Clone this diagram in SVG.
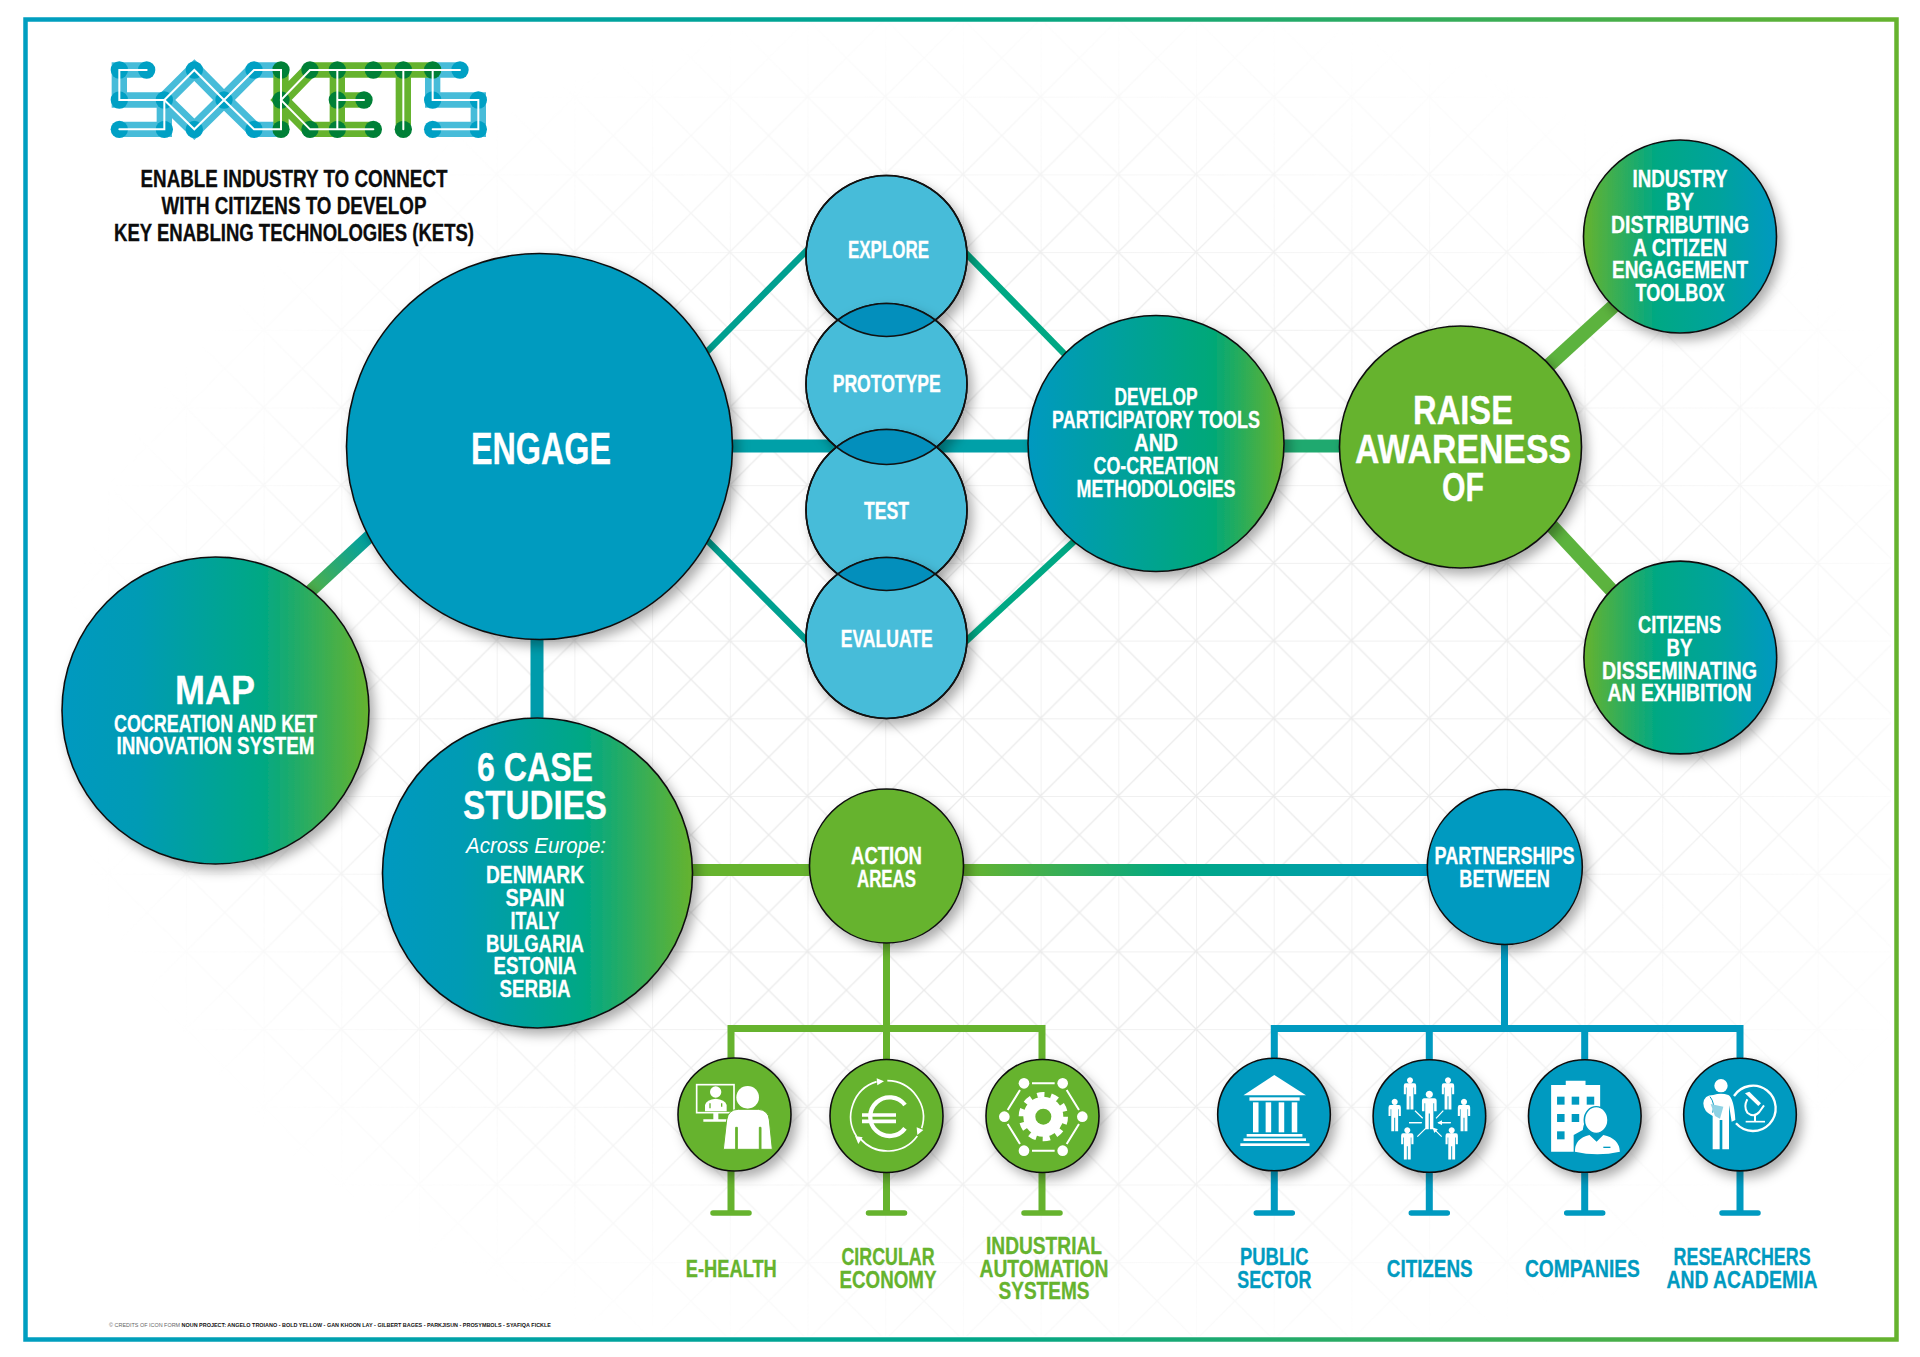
<svg xmlns="http://www.w3.org/2000/svg" width="1920" height="1357" viewBox="0 0 1920 1357">
<style>
text{font-family:"Liberation Sans Narrow","Liberation Sans",Arial,sans-serif;font-weight:700;fill:#fff;stroke:#fff;stroke-width:.3;text-anchor:middle}
.s23{font-size:23px}.s41{font-size:41px}.s44{font-size:44px}
.k{fill:#0c0c0c;stroke:#0c0c0c}.g{fill:#66b32e;stroke:#66b32e}.b{fill:#009ac0;stroke:#009ac0}
.n{stroke:#111;stroke-width:1.6}
.sh{filter:url(#shadow)}
.gl{stroke:#66b32e;stroke-width:7;fill:none}
.bl{stroke:#009ac0;stroke-width:7;fill:none}
.bar{stroke-width:5.5;stroke-linecap:round}
.w{fill:#fff}.ws{stroke:#fff;fill:none}
</style>
<defs>
<filter id="shadow" x="-20%" y="-20%" width="145%" height="145%"><feDropShadow dx="5" dy="6" stdDeviation="6" flood-color="#000" flood-opacity=".32"/></filter>
<linearGradient id="frame" gradientUnits="userSpaceOnUse" x1="25" y1="0" x2="1897" y2="0"><stop offset="0" stop-color="#009ec0"/><stop offset=".5" stop-color="#00a68a"/><stop offset="1" stop-color="#66b32e"/></linearGradient>
<linearGradient id="b2g"><stop offset="0" stop-color="#0099c0"/><stop offset=".25" stop-color="#009bb4"/><stop offset=".65" stop-color="#00a884"/><stop offset="1" stop-color="#66b32e"/></linearGradient>
<linearGradient id="dev"><stop offset="0" stop-color="#0099c0"/><stop offset=".72" stop-color="#00a878"/><stop offset="1" stop-color="#66b32e"/></linearGradient>
<linearGradient id="g2b"><stop offset="0" stop-color="#66b32e"/><stop offset=".38" stop-color="#00a884"/><stop offset=".7" stop-color="#00a39c"/><stop offset="1" stop-color="#0099c0"/></linearGradient>
<linearGradient id="ab" gradientUnits="userSpaceOnUse" x1="965" y1="0" x2="1428" y2="0"><stop offset="0" stop-color="#66b32e"/><stop offset=".45" stop-color="#00a884"/><stop offset="1" stop-color="#009ac0"/></linearGradient>
<linearGradient id="em" gradientUnits="userSpaceOnUse" x1="367" y1="539" x2="312" y2="590"><stop offset="0" stop-color="#00a0a0"/><stop offset="1" stop-color="#4fb04a"/></linearGradient>
<pattern id="cell" patternUnits="userSpaceOnUse" x="30.500" y="19" width="77.700" height="77.700"><path d="M0 0H77.700M0 0V77.700M0 0L77.700 77.700M77.700 0L0 77.700" stroke="#ebebeb" stroke-width="1.300" fill="none"/></pattern>
<radialGradient id="fade" gradientUnits="userSpaceOnUse" cx="1040" cy="700" r="1000" gradientTransform="translate(1040 700) scale(1 .72) translate(-1040 -700)"><stop offset="0" stop-color="#fff"/><stop offset=".55" stop-color="#fff"/><stop offset=".98" stop-color="#000"/></radialGradient>
<mask id="gridMask" maskUnits="userSpaceOnUse" x="0" y="0" width="1920" height="1357"><rect width="1920" height="1357" fill="url(#fade)"/></mask>
<clipPath id="cE"><circle cx="886.500" cy="256" r="80.500"/></clipPath>
<clipPath id="cP"><circle cx="886.500" cy="384" r="80.500"/></clipPath>
<clipPath id="cT"><circle cx="886.500" cy="510" r="80.500"/></clipPath>
<path id="pers" d="M0-17a3.200 3.200 0 1 0 .01 0ZM-4.500-10.500H4.500Q6.500-10.500 6.500-8V1H4.300V-6H3.600V17H.5V3H-.5V17H-3.600V-6H-4.300V1H-6.500V-8Q-6.500-10.500-4.500-10.500Z" class="w"/>
<marker id="ah" markerUnits="userSpaceOnUse" markerWidth="5" markerHeight="5" refX="4" refY="2.500" orient="auto-start-reverse"><path d="M0 0L5 2.500L0 5Z" fill="#fff"/></marker>
</defs>

<rect width="1920" height="1357" fill="#fff"/>
<g id="grid"><rect x="31" y="20" width="1860" height="1316" fill="url(#cell)" mask="url(#gridMask)"/></g>
<rect id="frame-border" x="25.500" y="19.500" width="1871" height="1320" fill="none" stroke="url(#frame)" stroke-width="4.500"/>

<g id="logo" transform="scale(.33333)" fill="none" stroke-linecap="round" stroke-linejoin="miter">
<g stroke="#47bcd9" stroke-width="46">
<path d="M440 210H358V300H493V388H358"/><path d="M583 210L672 300L583 388L493 300Z"/><path d="M672 300L762 210H843M672 300L762 388H843"/><path d="M1298 210H1380M1298 210V300H1435V388H1298"/>
</g>
<g stroke="#66b32e" stroke-width="46">
<path d="M843 210V388M930 210L843 300L930 388M930 210H1298M1012 210V388M1012 300H1092M930 388H1120M1210 210V388"/>
</g>
<g fill="#00a0c4" stroke="none">
<circle cx="358" cy="210" r="26"/><circle cx="440" cy="210" r="26"/><circle cx="358" cy="300" r="26"/><circle cx="493" cy="300" r="26"/><circle cx="358" cy="388" r="26"/><circle cx="493" cy="388" r="26"/><circle cx="583" cy="210" r="26"/><circle cx="583" cy="388" r="26"/><circle cx="672" cy="300" r="26"/><circle cx="762" cy="210" r="26"/><circle cx="762" cy="388" r="26"/><circle cx="1380" cy="210" r="26"/><circle cx="1298" cy="300" r="26"/><circle cx="1435" cy="300" r="26"/><circle cx="1298" cy="388" r="26"/><circle cx="1435" cy="388" r="26"/>
</g>
<g fill="#008037" stroke="none">
<circle cx="843" cy="210" r="26"/><circle cx="843" cy="300" r="26"/><circle cx="843" cy="388" r="26"/><circle cx="930" cy="210" r="26"/><circle cx="930" cy="388" r="26"/><circle cx="1012" cy="210" r="26"/><circle cx="1012" cy="300" r="26"/><circle cx="1012" cy="388" r="26"/><circle cx="1092" cy="300" r="26"/><circle cx="1120" cy="388" r="26"/><circle cx="1120" cy="210" r="26"/><circle cx="1210" cy="210" r="26"/><circle cx="1210" cy="388" r="26"/><circle cx="1298" cy="210" r="26"/>
</g>
<g stroke="#fff" stroke-width="6">
<path d="M440 210H358V300H493V388H358"/><path d="M493 300L583 210L672 300L762 388H843V210H762L672 300L583 388Z"/><path d="M930 210L843 300L930 388H1120M930 210H1380M1012 210V388M1012 300H1092M1210 210V388M1298 210V300H1435V388H1298"/>
</g>
</g>

<g id="headline">
<text class="k s23" x="294" y="186.700" textLength="307" lengthAdjust="spacingAndGlyphs">ENABLE INDUSTRY TO CONNECT</text>
<text class="k s23" x="294" y="214" textLength="265" lengthAdjust="spacingAndGlyphs">WITH CITIZENS TO DEVELOP</text>
<text class="k s23" x="294" y="241" textLength="360" lengthAdjust="spacingAndGlyphs">KEY ENABLING TECHNOLOGIES (KETS)</text>
</g>

<g id="connectors" fill="none">
<path d="M690 369L825 232" stroke="#00a090" stroke-width="6.500"/>
<path d="M690 523L825 659" stroke="#00a090" stroke-width="6.500"/>
<path d="M950 237L1085 375" stroke="#00a884" stroke-width="6.500"/>
<path d="M950 656L1095 522" stroke="#00a884" stroke-width="6.500"/>
<path d="M732 446H1040" stroke="#00a0a8" stroke-width="13"/>
<path d="M1270 446H1350" stroke="#1fa96f" stroke-width="13"/>
<path d="M1535 378L1640 282" stroke="#5cb33e" stroke-width="14"/>
<path d="M1535 508L1630 610" stroke="#5cb33e" stroke-width="14"/>
<path d="M385 522L290 610" stroke="url(#em)" stroke-width="13"/>
<path d="M537 635V725" stroke="#009bab" stroke-width="13"/>
<path d="M690 870H815" stroke="#66b32e" stroke-width="12"/>
<path d="M960 870H1432" stroke="url(#ab)" stroke-width="12"/>
<path class="gl" d="M886.500 940V1028.500M731 1060V1028.500H1042V1060M886.500 1028.500V1060"/>
<path class="bl" d="M1504.500 940V1028.500M1274.300 1060V1028.500H1740V1060M1429.300 1028.500V1060M1584.700 1028.500V1060"/>
<path class="gl" d="M731 1170V1213M886.500 1170V1213M1042 1170V1213"/>
<path class="bl" d="M1274.300 1170V1213M1429.300 1170V1213M1584.700 1170V1213M1740 1170V1213"/>
<path class="bar" stroke="#66b32e" d="M713 1213H749M868.500 1213H904.500M1024 1213H1060"/>
<path class="bar" stroke="#009ac0" d="M1256.300 1213H1292.300M1411.300 1213H1447.300M1566.700 1213H1602.700M1722 1213H1758"/>
</g>

<g id="node-engage"><circle class="n sh" cx="539.500" cy="446.500" r="193" fill="#009bbf"/><text class="s44" x="541" y="464" textLength="140" lengthAdjust="spacingAndGlyphs">ENGAGE</text></g>

<g id="node-map"><circle class="n sh" cx="215.500" cy="710.500" r="153.500" fill="url(#b2g)"/>
<text class="s41" x="215" y="704" textLength="80" lengthAdjust="spacingAndGlyphs">MAP</text>
<text class="s23" x="215.500" y="732" textLength="203" lengthAdjust="spacingAndGlyphs">COCREATION AND KET</text>
<text class="s23" x="215.500" y="754" textLength="198" lengthAdjust="spacingAndGlyphs">INNOVATION SYSTEM</text></g>

<g id="node-case-studies"><circle class="n sh" cx="537.500" cy="873" r="155" fill="url(#b2g)"/>
<text class="s41" x="535" y="781" textLength="116" lengthAdjust="spacingAndGlyphs">6 CASE</text>
<text class="s41" x="535" y="819" textLength="144" lengthAdjust="spacingAndGlyphs">STUDIES</text>
<text x="536" y="853" font-size="22" style="font-weight:400;font-style:italic;stroke:none;font-family:'Liberation Sans',sans-serif" textLength="140" lengthAdjust="spacingAndGlyphs">Across Europe:</text>
<text class="s23" x="535" y="883" textLength="98" lengthAdjust="spacingAndGlyphs">DENMARK</text>
<text class="s23" x="535" y="906" textLength="59" lengthAdjust="spacingAndGlyphs">SPAIN</text>
<text class="s23" x="535" y="928.500" textLength="49" lengthAdjust="spacingAndGlyphs">ITALY</text>
<text class="s23" x="535" y="951.500" textLength="98" lengthAdjust="spacingAndGlyphs">BULGARIA</text>
<text class="s23" x="535" y="974" textLength="83" lengthAdjust="spacingAndGlyphs">ESTONIA</text>
<text class="s23" x="535" y="997" textLength="71" lengthAdjust="spacingAndGlyphs">SERBIA</text></g>

<g id="node-explore"><circle class="n sh" cx="886.500" cy="256" r="80.500" fill="#47bcd9"/><text class="s23" x="888.500" y="258" textLength="81" lengthAdjust="spacingAndGlyphs">EXPLORE</text></g>
<g id="node-prototype"><circle class="n sh" cx="886.500" cy="384" r="80.500" fill="#47bcd9"/><circle cx="886.500" cy="384" r="80.500" fill="#038fbc" clip-path="url(#cE)"/><text class="s23" x="886.700" y="392" textLength="108" lengthAdjust="spacingAndGlyphs">PROTOTYPE</text></g>
<g id="node-test"><circle class="n sh" cx="886.500" cy="510" r="80.500" fill="#47bcd9"/><circle cx="886.500" cy="510" r="80.500" fill="#038fbc" clip-path="url(#cP)"/><text class="s23" x="886.500" y="519" textLength="45" lengthAdjust="spacingAndGlyphs">TEST</text></g>
<g id="node-evaluate"><circle class="n sh" cx="886.500" cy="638" r="80.500" fill="#47bcd9"/><circle cx="886.500" cy="638" r="80.500" fill="#038fbc" clip-path="url(#cT)"/><text class="s23" x="886.700" y="646.500" textLength="92" lengthAdjust="spacingAndGlyphs">EVALUATE</text></g>
<g id="overlap-outlines" fill="none" stroke="#111" stroke-width="1.600"><circle cx="886.500" cy="256" r="80.500"/><circle cx="886.500" cy="384" r="80.500"/><circle cx="886.500" cy="510" r="80.500"/><circle cx="886.500" cy="638" r="80.500"/></g>

<g id="node-develop"><circle class="n sh" cx="1156" cy="443.500" r="128" fill="url(#dev)"/>
<text class="s23" x="1156" y="405" textLength="83" lengthAdjust="spacingAndGlyphs">DEVELOP</text>
<text class="s23" x="1156" y="428" textLength="208" lengthAdjust="spacingAndGlyphs">PARTICIPATORY TOOLS</text>
<text class="s23" x="1156" y="450.500" textLength="44" lengthAdjust="spacingAndGlyphs">AND</text>
<text class="s23" x="1156" y="474" textLength="125" lengthAdjust="spacingAndGlyphs">CO-CREATION</text>
<text class="s23" x="1156" y="496.500" textLength="159" lengthAdjust="spacingAndGlyphs">METHODOLOGIES</text></g>

<g id="node-raise"><circle class="n sh" cx="1460.500" cy="447" r="121" fill="#66b32e"/>
<text class="s41" x="1463" y="424" textLength="100" lengthAdjust="spacingAndGlyphs">RAISE</text>
<text class="s41" x="1463" y="463" textLength="216" lengthAdjust="spacingAndGlyphs">AWARENESS</text>
<text class="s41" x="1463" y="501" textLength="42" lengthAdjust="spacingAndGlyphs">OF</text></g>

<g id="node-industry"><circle class="n sh" cx="1680" cy="236.500" r="96.500" fill="url(#g2b)"/>
<text class="s23" x="1680" y="187" textLength="95" lengthAdjust="spacingAndGlyphs">INDUSTRY</text>
<text class="s23" x="1680" y="210" textLength="28" lengthAdjust="spacingAndGlyphs">BY</text>
<text class="s23" x="1680" y="233" textLength="138" lengthAdjust="spacingAndGlyphs">DISTRIBUTING</text>
<text class="s23" x="1680" y="255.500" textLength="94" lengthAdjust="spacingAndGlyphs">A CITIZEN</text>
<text class="s23" x="1680" y="278" textLength="136" lengthAdjust="spacingAndGlyphs">ENGAGEMENT</text>
<text class="s23" x="1680" y="301" textLength="89" lengthAdjust="spacingAndGlyphs">TOOLBOX</text></g>

<g id="node-citizens-exhibition"><circle class="n sh" cx="1680.300" cy="657.500" r="96.400" fill="url(#g2b)"/>
<text class="s23" x="1679.600" y="632.700" textLength="83" lengthAdjust="spacingAndGlyphs">CITIZENS</text>
<text class="s23" x="1679.600" y="655.500" textLength="26" lengthAdjust="spacingAndGlyphs">BY</text>
<text class="s23" x="1679.600" y="678.500" textLength="155" lengthAdjust="spacingAndGlyphs">DISSEMINATING</text>
<text class="s23" x="1679.600" y="701" textLength="144" lengthAdjust="spacingAndGlyphs">AN EXHIBITION</text></g>

<g id="node-action"><circle class="n sh" cx="886.500" cy="866" r="77" fill="#66b32e"/>
<text class="s23" x="886.500" y="864" textLength="71" lengthAdjust="spacingAndGlyphs">ACTION</text>
<text class="s23" x="886.500" y="886.500" textLength="59" lengthAdjust="spacingAndGlyphs">AREAS</text></g>

<g id="node-partnerships"><circle class="n sh" cx="1504.800" cy="867" r="77.500" fill="#009ac0"/>
<text class="s23" x="1504.600" y="864" textLength="140" lengthAdjust="spacingAndGlyphs">PARTNERSHIPS</text>
<text class="s23" x="1504.600" y="887" textLength="90.500" lengthAdjust="spacingAndGlyphs">BETWEEN</text></g>

<g id="node-ehealth"><circle class="n sh" cx="734.500" cy="1114.500" r="56.500" fill="#66b32e"/>
<g transform="translate(660 1040) scale(.33333)">
<rect x="110" y="134" width="112" height="84" fill="none" stroke="#fff" stroke-width="5"/>
<circle cx="167" cy="156" r="17" class="w"/><path d="M135 214V195Q140 178 167 176Q195 178 200 195V214Z" class="w"/>
<path d="M150 190V205M185 190V200" stroke="#66b32e" stroke-width="4"/>
<path d="M130 238H205V245H130ZM160 218H175V238H160Z" class="w"/>
<circle cx="263" cy="172" r="34" class="w"/>
<path d="M190 328L200 240Q205 208 235 208H295Q325 210 328 240L337 328H303V262H298V328H232V262H227V328Z" class="w" stroke="#66b32e" stroke-width="3"/>
</g></g>
<g id="node-circular"><circle class="n sh" cx="886.500" cy="1116" r="56.500" fill="#66b32e"/>
<g transform="translate(660 1040) scale(.33333)">
<path d="M590 290A110 110 0 0 1 650 125M682 122A110 110 0 0 1 785 265M772 288A110 110 0 0 1 600 295" class="ws" stroke-width="5"/>
<path d="M650 115L672 124L652 136ZM770 262L790 270L772 285ZM585 288L608 292L595 312Z" class="w"/>
<path d="M735 195A58 58 0 1 0 735 265" class="ws" stroke-width="13"/>
<path d="M606 225H708M606 244H708" class="ws" stroke-width="11"/>
</g></g>
<g id="node-industrial"><circle class="n sh" cx="1042.500" cy="1116" r="56.500" fill="#66b32e"/>
<g transform="translate(660 1040) scale(.33333)">
<circle cx="1150" cy="230" r="60" class="w"/>
<circle cx="1150" cy="230" r="66" fill="none" stroke="#fff" stroke-width="16" stroke-dasharray="22 19.500"/>
<circle cx="1150" cy="230" r="24" fill="#66b32e"/>
<g class="w"><circle cx="1092" cy="130" r="16"/><circle cx="1208" cy="130" r="16"/><circle cx="1267" cy="230" r="16"/><circle cx="1208" cy="332" r="16"/><circle cx="1092" cy="332" r="16"/><circle cx="1033" cy="230" r="16"/></g>
<path d="M1116 130H1184M1220 150L1257 210M1257 252L1220 312M1184 332H1116M1080 312L1043 252M1043 210L1080 150" class="ws" stroke-width="6"/>
</g></g>

<g id="node-public"><circle class="n sh" cx="1274" cy="1114.500" r="56.300" fill="#009ac0"/>
<g transform="translate(1200 1040) scale(.39541 .33333)" class="w">
<path d="M188 105L268 166H110Z"/><rect x="125" y="172" width="127" height="10"/>
<rect x="134" y="187" width="14" height="90"/><rect x="166" y="187" width="14" height="90"/><rect x="199" y="187" width="14" height="90"/><rect x="232" y="187" width="14" height="90"/>
<rect x="118" y="282" width="141" height="8"/><rect x="110" y="295" width="158" height="8"/><rect x="102" y="310" width="175" height="8"/>
</g></g>
<g id="node-citizens"><circle class="n sh" cx="1429.400" cy="1116" r="56.300" fill="#009ac0"/>
<use href="#pers" transform="translate(1410 1093.300) scale(.95)"/><use href="#pers" transform="translate(1448 1093.300) scale(.95)"/>
<use href="#pers" transform="translate(1429.300 1110) scale(1.130)"/>
<use href="#pers" transform="translate(1394.700 1115) scale(.95)"/><use href="#pers" transform="translate(1464 1115) scale(.95)"/>
<use href="#pers" transform="translate(1407.300 1143.300) scale(.95)"/><use href="#pers" transform="translate(1451.700 1143.300) scale(.95)"/>
<path d="M1415 1110.700L1422.700 1118.300M1443.300 1110.700L1436 1118.300M1409 1122.700H1421.700M1438.300 1122.700H1450.700M1417.300 1136.700L1425.700 1128.300M1441.700 1136.700L1433.300 1128.300" stroke="#fff" stroke-width="1.200" marker-end="url(#ah)"/>
<path d="M1421.700 1122.700H1409M1450.700 1122.700H1438.300" stroke="#fff" stroke-width="1.200" marker-end="url(#ah)"/>
</g>
<g id="node-companies"><circle class="n sh" cx="1584.800" cy="1116" r="56.300" fill="#009ac0"/>
<g transform="translate(1200 1040) scale(.39541 .33333)">
<path d="M888 135H925V122H975V135H1012V205Q975 215 968 270L945 285V335H888Z" class="w"/>
<g fill="#009ac0"><rect x="903" y="170" width="19" height="24"/><rect x="940" y="170" width="19" height="24"/><rect x="978" y="170" width="19" height="24"/><rect x="903" y="222" width="19" height="24"/><rect x="940" y="222" width="19" height="24"/><rect x="903" y="274" width="19" height="24"/></g>
<ellipse cx="1002" cy="240" rx="30" ry="40" class="w" stroke="#009ac0" stroke-width="4"/>
<path d="M948 335Q948 295 985 285L1003 305L1020 285Q1060 295 1062 335Q1005 350 948 335Z" class="w"/>
<path d="M1020 322H1038" stroke="#009ac0" stroke-width="4"/>
</g></g>
<g id="node-researchers"><circle class="n sh" cx="1740" cy="1114.600" r="56.300" fill="#009ac0"/>
<g transform="translate(1660 1040) scale(.33333)">
<circle cx="183" cy="137" r="20" class="w"/>
<path d="M160 165Q183 158 205 165Q222 175 226 240L215 245L207 195V328H187V240H179V328H158V228Q130 215 130 190Q132 165 160 165Z" class="w"/>
<path d="M150 170Q166 190 158 218" class="ws" style="stroke:#009ac0" stroke-width="3"/>
<path d="M152 192L190 200L180 236L165 228Z" fill="#8fd2e4"/>
<path d="M228 250A68 68 0 1 0 222 168" class="ws" stroke-width="7"/>
<path d="M255 160L268 155L303 190L295 198Z" class="w"/>
<path d="M262 178Q250 200 262 218Q282 234 298 216L312 196" class="ws" stroke-width="6"/>
<path d="M257 245H315" class="ws" stroke-width="5"/><path d="M285 225V245" class="ws" stroke-width="6"/>
</g></g>

<g id="labels">
<text class="g s23" x="731.300" y="1276.700" textLength="91" lengthAdjust="spacingAndGlyphs">E-HEALTH</text>
<text class="g s23" x="888" y="1265" textLength="93" lengthAdjust="spacingAndGlyphs">CIRCULAR</text>
<text class="g s23" x="888" y="1288" textLength="97" lengthAdjust="spacingAndGlyphs">ECONOMY</text>
<text class="g s23" x="1044" y="1254" textLength="116" lengthAdjust="spacingAndGlyphs">INDUSTRIAL</text>
<text class="g s23" x="1044" y="1276.700" textLength="129" lengthAdjust="spacingAndGlyphs">AUTOMATION</text>
<text class="g s23" x="1044" y="1299" textLength="91" lengthAdjust="spacingAndGlyphs">SYSTEMS</text>
<text class="b s23" x="1274.300" y="1265" textLength="68.400" lengthAdjust="spacingAndGlyphs">PUBLIC</text>
<text class="b s23" x="1274.300" y="1288" textLength="74" lengthAdjust="spacingAndGlyphs">SECTOR</text>
<text class="b s23" x="1429.700" y="1277" textLength="85.800" lengthAdjust="spacingAndGlyphs">CITIZENS</text>
<text class="b s23" x="1582.400" y="1277" textLength="115" lengthAdjust="spacingAndGlyphs">COMPANIES</text>
<text class="b s23" x="1742.100" y="1265" textLength="137" lengthAdjust="spacingAndGlyphs">RESEARCHERS</text>
<text class="b s23" x="1742" y="1288" textLength="151" lengthAdjust="spacingAndGlyphs">AND ACADEMIA</text>
</g>

<text id="credits" x="109" y="1326.500" font-size="6" textLength="442" lengthAdjust="spacingAndGlyphs" style="text-anchor:start;fill:#111;stroke:none;font-family:'Liberation Sans',sans-serif"><tspan style="font-weight:400;fill:#666">© CREDITS OF ICON FORM </tspan>NOUN PROJECT: ANGELO TROIANO - BOLD YELLOW - GAN KHOON LAY - GILBERT BAGES - PARKJISUN - PROSYMBOLS - SYAFIQA FICKLE</text>
</svg>
